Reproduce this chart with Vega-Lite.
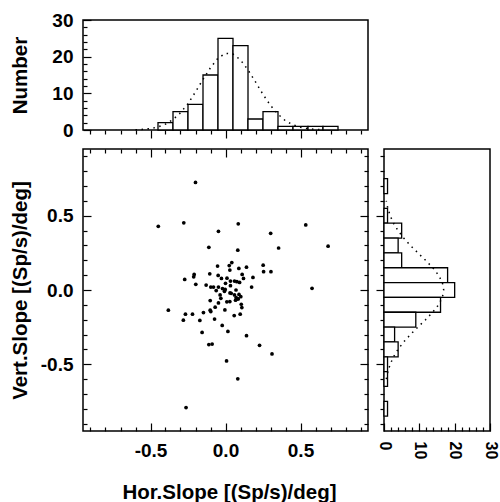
{
  "$schema": "https://vega.github.io/schema/vega-lite/v6.json",
  "padding": {"left": 9, "top": 10, "right": 0, "bottom": 0},
  "bounds": "flush",
  "spacing": 19,
  "config": {
    "view": {"stroke": "black", "strokeWidth": 1.5},
    "font": "Liberation Sans",
    "axis": {
      "domain": false, "grid": false, "tickColor": "black", "tickWidth": 1.2,
      "labelFont": "Liberation Sans", "labelFontSize": 19, "labelFontWeight": "bold", "labelColor": "black",
      "titleFont": "Liberation Sans", "titleFontSize": 20.5, "titleFontWeight": "bold", "titleColor": "black",
      "labelFlush": false, "labelOverlap": false, "labelBound": false
    }
  },
  "datasets": {
    "pts": [
      {"h": -0.200, "v": 0.725}, {"h": -0.448, "v": 0.429}, {"h": -0.278, "v": 0.453}, {"h": 0.085, "v": 0.446},
      {"h": -0.047, "v": 0.395}, {"h": 0.301, "v": 0.382}, {"h": 0.535, "v": 0.438}, {"h": -0.111, "v": 0.288},
      {"h": 0.082, "v": 0.268}, {"h": 0.354, "v": 0.283}, {"h": 0.684, "v": 0.295}, {"h": 0.042, "v": 0.185},
      {"h": -0.053, "v": 0.161}, {"h": 0.025, "v": 0.165}, {"h": 0.029, "v": 0.134}, {"h": 0.089, "v": 0.145},
      {"h": 0.140, "v": 0.154}, {"h": 0.251, "v": 0.167}, {"h": 0.254, "v": 0.123}, {"h": 0.303, "v": 0.123},
      {"h": -0.209, "v": 0.105}, {"h": -0.212, "v": 0.089}, {"h": -0.272, "v": 0.071}, {"h": -0.105, "v": 0.109},
      {"h": -0.049, "v": 0.098}, {"h": -0.027, "v": 0.078}, {"h": 0.111, "v": 0.105}, {"h": 0.120, "v": 0.078},
      {"h": 0.183, "v": 0.085}, {"h": -0.198, "v": 0.038}, {"h": -0.129, "v": 0.033}, {"h": -0.098, "v": 0.020},
      {"h": -0.080, "v": 0.020}, {"h": -0.047, "v": 0.020}, {"h": -0.062, "v": -0.004}, {"h": 0.000, "v": 0.045},
      {"h": 0.033, "v": 0.060}, {"h": 0.060, "v": 0.060}, {"h": 0.076, "v": 0.056}, {"h": 0.094, "v": 0.051},
      {"h": 0.033, "v": 0.029}, {"h": -0.002, "v": 0.004}, {"h": -0.007, "v": -0.009}, {"h": 0.174, "v": 0.020},
      {"h": 0.577, "v": 0.011}, {"h": -0.036, "v": -0.033}, {"h": -0.031, "v": -0.056}, {"h": 0.038, "v": -0.022},
      {"h": 0.060, "v": -0.033}, {"h": 0.071, "v": -0.051}, {"h": 0.085, "v": -0.060}, {"h": 0.102, "v": -0.045},
      {"h": 0.067, "v": -0.069}, {"h": 0.078, "v": -0.060}, {"h": -0.102, "v": -0.071}, {"h": -0.047, "v": -0.087},
      {"h": 0.009, "v": -0.080}, {"h": 0.029, "v": -0.078}, {"h": 0.105, "v": -0.096}, {"h": 0.109, "v": -0.118},
      {"h": -0.069, "v": -0.116}, {"h": -0.102, "v": -0.136}, {"h": -0.098, "v": -0.145}, {"h": -0.147, "v": -0.152},
      {"h": -0.004, "v": -0.134}, {"h": -0.381, "v": -0.136}, {"h": -0.267, "v": -0.163}, {"h": -0.220, "v": -0.163},
      {"h": 0.058, "v": -0.172}, {"h": 0.098, "v": -0.163}, {"h": -0.281, "v": -0.203}, {"h": -0.171, "v": -0.205},
      {"h": -0.073, "v": -0.196}, {"h": -0.022, "v": -0.239}, {"h": -0.156, "v": -0.286}, {"h": 0.016, "v": -0.279},
      {"h": 0.140, "v": -0.308}, {"h": -0.111, "v": -0.368}, {"h": -0.089, "v": -0.364}, {"h": 0.227, "v": -0.373},
      {"h": 0.310, "v": -0.431}, {"h": 0.007, "v": -0.478}, {"h": 0.082, "v": -0.598}, {"h": -0.263, "v": -0.792},
      {"h": 0.010, "v": 0.080}, {"h": -0.020, "v": 0.010}, {"h": 0.030, "v": -0.020}, {"h": 0.070, "v": 0.000},
      {"h": 0.090, "v": -0.030}
    ],
    "tophist": [
      {"x0": -0.45, "x1": -0.35, "n": 2}, {"x0": -0.35, "x1": -0.25, "n": 5}, {"x0": -0.25, "x1": -0.15, "n": 7},
      {"x0": -0.15, "x1": -0.05, "n": 15}, {"x0": -0.05, "x1": 0.05, "n": 25}, {"x0": 0.05, "x1": 0.15, "n": 23},
      {"x0": 0.15, "x1": 0.25, "n": 3}, {"x0": 0.25, "x1": 0.35, "n": 5}, {"x0": 0.35, "x1": 0.45, "n": 1},
      {"x0": 0.45, "x1": 0.55, "n": 1}, {"x0": 0.55, "x1": 0.65, "n": 1}, {"x0": 0.65, "x1": 0.75, "n": 1}
    ],
    "topfit": [
      {"x": -0.6, "n": 0.08}, {"x": -0.55, "n": 0.18}, {"x": -0.5, "n": 0.4}, {"x": -0.45, "n": 0.83},
      {"x": -0.4, "n": 1.6}, {"x": -0.35, "n": 2.84}, {"x": -0.3, "n": 4.7}, {"x": -0.25, "n": 7.2},
      {"x": -0.2, "n": 10.4}, {"x": -0.15, "n": 13.8}, {"x": -0.1, "n": 17.0}, {"x": -0.05, "n": 19.6},
      {"x": 0, "n": 20.9}, {"x": 0.05, "n": 20.7}, {"x": 0.1, "n": 19.1}, {"x": 0.15, "n": 16.4},
      {"x": 0.2, "n": 13.1}, {"x": 0.25, "n": 9.7}, {"x": 0.3, "n": 6.7}, {"x": 0.35, "n": 4.3},
      {"x": 0.4, "n": 2.5}, {"x": 0.45, "n": 1.4}, {"x": 0.5, "n": 0.72}, {"x": 0.55, "n": 0.35},
      {"x": 0.6, "n": 0.16}, {"x": 0.65, "n": 0.06}
    ],
    "righthist": [
      {"y0": 0.65, "y1": 0.75, "n": 1}, {"y0": 0.45, "y1": 0.55, "n": 1}, {"y0": 0.35, "y1": 0.45, "n": 5},
      {"y0": 0.25, "y1": 0.35, "n": 4}, {"y0": 0.15, "y1": 0.25, "n": 5}, {"y0": 0.05, "y1": 0.15, "n": 18},
      {"y0": -0.05, "y1": 0.05, "n": 20}, {"y0": -0.15, "y1": -0.05, "n": 16}, {"y0": -0.25, "y1": -0.15, "n": 9},
      {"y0": -0.35, "y1": -0.25, "n": 3}, {"y0": -0.45, "y1": -0.35, "n": 4}, {"y0": -0.55, "y1": -0.45, "n": 1},
      {"y0": -0.65, "y1": -0.55, "n": 1}, {"y0": -0.85, "y1": -0.75, "n": 1}
    ],
    "rightfit": [
      {"y": -0.6, "n": 0.65}, {"y": -0.55, "n": 1.09}, {"y": -0.5, "n": 1.76}, {"y": -0.45, "n": 2.7},
      {"y": -0.4, "n": 3.97}, {"y": -0.35, "n": 5.58}, {"y": -0.3, "n": 7.48}, {"y": -0.25, "n": 9.6},
      {"y": -0.2, "n": 11.77}, {"y": -0.15, "n": 13.78}, {"y": -0.1, "n": 15.44}, {"y": -0.05, "n": 16.52},
      {"y": 0, "n": 16.9}, {"y": 0.05, "n": 16.52}, {"y": 0.1, "n": 15.44}, {"y": 0.15, "n": 13.78},
      {"y": 0.2, "n": 11.77}, {"y": 0.25, "n": 9.6}, {"y": 0.3, "n": 7.48}, {"y": 0.35, "n": 5.58},
      {"y": 0.4, "n": 3.97}, {"y": 0.45, "n": 2.7}, {"y": 0.5, "n": 1.76}, {"y": 0.55, "n": 1.09},
      {"y": 0.6, "n": 0.65}
    ]
  },
  "vconcat": [
    {
      "width": 285, "height": 110,
      "layer": [
        {
          "data": {"name": "tophist"},
          "mark": {"type": "rect", "fill": "white", "stroke": "black", "strokeWidth": 1.3},
          "encoding": {
            "x": {"field": "x0", "type": "quantitative",
              "scale": {"domain": [-0.95, 0.95], "nice": false, "zero": false},
              "axis": {"orient": "bottom", "title": null, "labels": false, "values": [-0.5, 0, 0.5], "tickSize": 8}},
            "x2": {"field": "x1"},
            "y": {"field": "n", "type": "quantitative",
              "scale": {"domain": [0, 30], "nice": false},
              "axis": {"orient": "left", "title": "Number", "values": [0, 10, 20, 30], "tickSize": -8, "labelPadding": 18,
                "titleX": -57, "titleY": 55, "titleAngle": 270, "titleBaseline": "alphabetic", "titleAlign": "center"}},
            "y2": {"datum": 0}
          }
        },
        {
          "data": {"name": "topfit"},
          "mark": {"type": "line", "stroke": "black", "strokeWidth": 1.5, "strokeDash": [1.5, 4.5]},
          "encoding": {
            "x": {"field": "x", "type": "quantitative",
              "axis": {"orient": "bottom", "title": null, "labels": false, "tickSize": 4,
                "values": [-0.9,-0.8,-0.7,-0.6,-0.4,-0.3,-0.2,-0.1,0.1,0.2,0.3,0.4,0.6,0.7,0.8,0.9]}},
            "y": {"field": "n", "type": "quantitative",
              "axis": {"orient": "left", "title": null, "labels": false, "tickSize": -4,
                "values": [2,4,6,8,12,14,16,18,22,24,26,28]}}
          }
        }
      ],
      "resolve": {"axis": {"x": "independent", "y": "independent"}}
    },
    {
      "bounds": "flush",
      "spacing": 16,
      "hconcat": [
        {
          "width": 285, "height": 282,
          "data": {"name": "pts"},
          "layer": [
            {
              "mark": {"type": "circle", "size": 14, "color": "black", "opacity": 1},
              "encoding": {
                "x": {"field": "h", "type": "quantitative",
                  "scale": {"domain": [-0.95, 0.95], "nice": false, "zero": false},
                  "axis": {"orient": "bottom", "title": "Hor.Slope [(Sp/s)/deg]", "values": [-0.5, 0, 0.5], "format": ".1f",
                    "labelExpr": "datum.value < -0.1 ? '-0.5' : datum.label",
                    "tickSize": -8, "labelPadding": 18,
                    "titleX": 146, "titleY": 67, "titleBaseline": "alphabetic", "titleAlign": "center"}},
                "y": {"field": "v", "type": "quantitative",
                  "scale": {"domain": [-0.95, 0.95], "nice": false, "zero": false},
                  "axis": {"orient": "left", "title": "Vert.Slope [(Sp/s)/deg]", "values": [-0.5, 0, 0.5], "format": ".1f",
                    "labelExpr": "datum.value < -0.1 ? '-0.5' : datum.label",
                    "tickSize": -8, "labelPadding": 18,
                    "titleX": -57, "titleY": 141, "titleAngle": 270, "titleBaseline": "alphabetic", "titleAlign": "center"}}
              }
            },
            {
              "mark": {"type": "circle", "size": 14, "opacity": 0},
              "encoding": {
                "x": {"field": "h", "type": "quantitative",
                  "axis": {"orient": "bottom", "title": null, "labels": false, "tickSize": -4,
                    "values": [-0.9,-0.8,-0.7,-0.6,-0.4,-0.3,-0.2,-0.1,0.1,0.2,0.3,0.4,0.6,0.7,0.8,0.9]}},
                "y": {"field": "v", "type": "quantitative",
                  "axis": {"orient": "left", "title": null, "labels": false, "tickSize": -4,
                    "values": [-0.9,-0.8,-0.7,-0.6,-0.4,-0.3,-0.2,-0.1,0.1,0.2,0.3,0.4,0.6,0.7,0.8,0.9]}}
              }
            },
            {
              "mark": {"type": "circle", "size": 14, "opacity": 0},
              "encoding": {
                "x": {"field": "h", "type": "quantitative",
                  "axis": {"orient": "top", "title": null, "labels": false, "tickSize": -8, "values": [-0.5, 0, 0.5]}},
                "y": {"field": "v", "type": "quantitative",
                  "axis": {"orient": "right", "title": null, "labels": false, "tickSize": -8, "values": [-0.5, 0, 0.5]}}
              }
            },
            {
              "mark": {"type": "circle", "size": 14, "opacity": 0},
              "encoding": {
                "x": {"field": "h", "type": "quantitative",
                  "axis": {"orient": "top", "title": null, "labels": false, "tickSize": -4,
                    "values": [-0.9,-0.8,-0.7,-0.6,-0.4,-0.3,-0.2,-0.1,0.1,0.2,0.3,0.4,0.6,0.7,0.8,0.9]}},
                "y": {"field": "v", "type": "quantitative",
                  "axis": {"orient": "right", "title": null, "labels": false, "tickSize": -4,
                    "values": [-0.9,-0.8,-0.7,-0.6,-0.4,-0.3,-0.2,-0.1,0.1,0.2,0.3,0.4,0.6,0.7,0.8,0.9]}}
              }
            }
          ],
          "resolve": {"axis": {"x": "independent", "y": "independent"}}
        },
        {
          "width": 106, "height": 282,
          "layer": [
            {
              "data": {"name": "righthist"},
              "mark": {"type": "rect", "fill": "white", "stroke": "black", "strokeWidth": 1.3},
              "encoding": {
                "y": {"field": "y0", "type": "quantitative",
                  "scale": {"domain": [-0.95, 0.95], "nice": false, "zero": false},
                  "axis": {"orient": "left", "title": null, "labels": false, "tickSize": 8, "values": [-0.5, 0, 0.5]}},
                "y2": {"field": "y1"},
                "x": {"field": "n", "type": "quantitative",
                  "scale": {"domain": [0, 30], "nice": false},
                  "axis": {"orient": "bottom", "title": null, "values": [0, 10, 20, 30],
                    "labelAngle": 90, "labelAlign": "left", "labelBaseline": "middle", "labelFontSize": 16,
                    "tickSize": -8, "labelPadding": 18}},
                "x2": {"datum": 0}
              }
            },
            {
              "data": {"name": "rightfit"},
              "mark": {"type": "line", "stroke": "black", "strokeWidth": 1.5, "strokeDash": [1.5, 4.5]},
              "encoding": {
                "x": {"field": "n", "type": "quantitative",
                  "axis": {"orient": "bottom", "title": null, "labels": false, "tickSize": -4,
                    "values": [2,4,6,8,12,14,16,18,22,24,26,28]}},
                "y": {"field": "y", "type": "quantitative",
                  "axis": {"orient": "left", "title": null, "labels": false, "tickSize": 4,
                    "values": [-0.9,-0.8,-0.7,-0.6,-0.4,-0.3,-0.2,-0.1,0.1,0.2,0.3,0.4,0.6,0.7,0.8,0.9]}},
                "order": {"field": "y", "type": "quantitative"}
              }
            }
          ],
          "resolve": {"axis": {"x": "independent", "y": "independent"}}
        }
      ]
    }
  ]
}
